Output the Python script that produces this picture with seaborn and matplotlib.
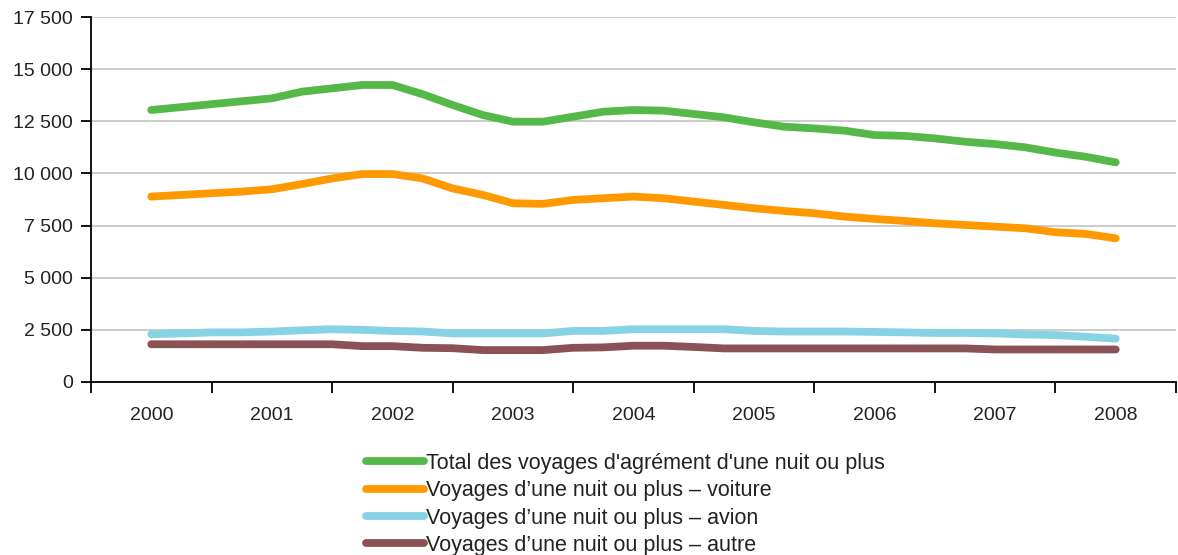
import numpy as np
import pandas as pd
import matplotlib
matplotlib.use("Agg")
import matplotlib.pyplot as plt
from matplotlib.ticker import FixedLocator, FuncFormatter
import seaborn as sns

# ---------------------------------------------------------------------------
# Data (quarterly, 2000 T1 .. 2008 T1)
# ---------------------------------------------------------------------------
PERIODS = pd.period_range("2000Q1", "2008Q1", freq="Q")

TOTAL = [13040, 13180, 13320, 13460, 13600, 13920, 14080, 14240, 14240,
         13800, 13280, 12800, 12480, 12480, 12720, 12960, 13040, 13010,
         12850, 12690, 12450, 12240, 12160, 12050, 11840, 11800, 11680,
         11520, 11410, 11250, 11000, 10800, 10530]
VOITURE = [8890, 8970, 9050, 9130, 9240, 9490, 9760, 9970, 9970,
           9760, 9280, 8970, 8570, 8540, 8730, 8810, 8890, 8810,
           8650, 8490, 8330, 8200, 8090, 7930, 7820, 7720, 7610,
           7530, 7450, 7370, 7180, 7100, 6890]
AVION = [2290, 2330, 2380, 2380, 2420, 2480, 2530, 2500, 2450,
         2420, 2330, 2330, 2330, 2330, 2450, 2450, 2530, 2530,
         2530, 2530, 2450, 2420, 2420, 2420, 2400, 2380, 2350,
         2350, 2330, 2280, 2250, 2170, 2080]
AUTRE = [1810, 1810, 1810, 1810, 1810, 1810, 1810, 1720, 1720,
         1640, 1620, 1530, 1530, 1530, 1640, 1660, 1740, 1740,
         1680, 1610, 1610, 1610, 1610, 1610, 1610, 1610, 1610,
         1610, 1560, 1560, 1560, 1560, 1560]

SERIES = [
    "Total des voyages d'agrément d'une nuit ou plus",
    "Voyages d\u2019une nuit ou plus \u2013 voiture",
    "Voyages d\u2019une nuit ou plus \u2013 avion",
    "Voyages d\u2019une nuit ou plus \u2013 autre",
]
COLORS = ["#55B94A", "#FF9900", "#85D3E3", "#8A5254"]
YEARS = list(range(2000, 2009))

# ---------------------------------------------------------------------------
# Build long table
# ---------------------------------------------------------------------------
xpos = np.array([p.year + (p.quarter - 1) / 4 for p in PERIODS])
frames = []
for name, vals in zip(SERIES, [TOTAL, VOITURE, AVION, AUTRE]):
    frames.append(pd.DataFrame({"x": xpos, "value": vals, "serie": name}))
df = pd.concat(frames, ignore_index=True)

# ---------------------------------------------------------------------------
# Plot
# ---------------------------------------------------------------------------
sns.set_style("white")
plt.rcParams["font.family"] = ["Liberation Sans", "DejaVu Sans"]
plt.rcParams["text.color"] = "#222222"

LW = 5.6

fig = plt.figure(figsize=(11.78, 5.55), dpi=100)
ax = fig.add_axes([91 / 1178, 1 - 382 / 555, (1176 - 91) / 1178, (382 - 17) / 555])

sns.lineplot(data=df, x="x", y="value", hue="serie", hue_order=SERIES,
             palette=dict(zip(SERIES, COLORS)), linewidth=LW, ax=ax,
             legend=True)
for line in ax.lines:
    line.set_solid_capstyle("round")
    line.set_solid_joinstyle("round")

ax.set_xlim(1999.5, 2008.5)
ax.set_ylim(0, 17500)
ax.set_yticks(np.arange(0, 17501, 2500))
ax.yaxis.set_major_formatter(FuncFormatter(lambda v, _: f"{int(v):,}".replace(",", " ")))
ax.yaxis.grid(True, color="#C8C8C8", lw=1.3)
ax.set_axisbelow(True)

# category axis: tick marks at boundaries, labels at centres
ax.xaxis.set_major_locator(FixedLocator(np.arange(1999.5, 2008.6, 1.0)))
ax.xaxis.set_major_formatter(FuncFormatter(lambda v, _: ""))
ax.xaxis.set_minor_locator(FixedLocator(YEARS))
ax.set_xticklabels([str(y) for y in YEARS], minor=True)
ax.tick_params(axis="x", which="major", direction="out", length=8, width=1.3,
               color="black", bottom=True)
ax.tick_params(axis="x", which="minor", length=0, pad=18, labelsize=14,
               labelcolor="#222222")
ax.tick_params(axis="y", direction="out", length=7, width=1.3, color="black",
               left=True, labelsize=14, labelcolor="#222222", pad=6)

ax.set_xlabel("")
ax.set_ylabel("")
for side in ["top", "right"]:
    ax.spines[side].set_visible(False)
for side in ["left", "bottom"]:
    ax.spines[side].set_color("black")
    ax.spines[side].set_linewidth(1.3)

handles, labels = ax.get_legend_handles_labels()
ax.get_legend().remove()
leg = fig.legend(handles, labels, loc="upper left",
                 bbox_to_anchor=(357 / 1178, 1 - 444 / 555), frameon=False,
                 fontsize=15.5, handlelength=2.7, handletextpad=0.1,
                 labelspacing=0.3, borderaxespad=0)
for h in leg.legend_handles:
    h.set_linewidth(LW)
    h.set_solid_capstyle("round")

fig.savefig("out.png", dpi=100)
